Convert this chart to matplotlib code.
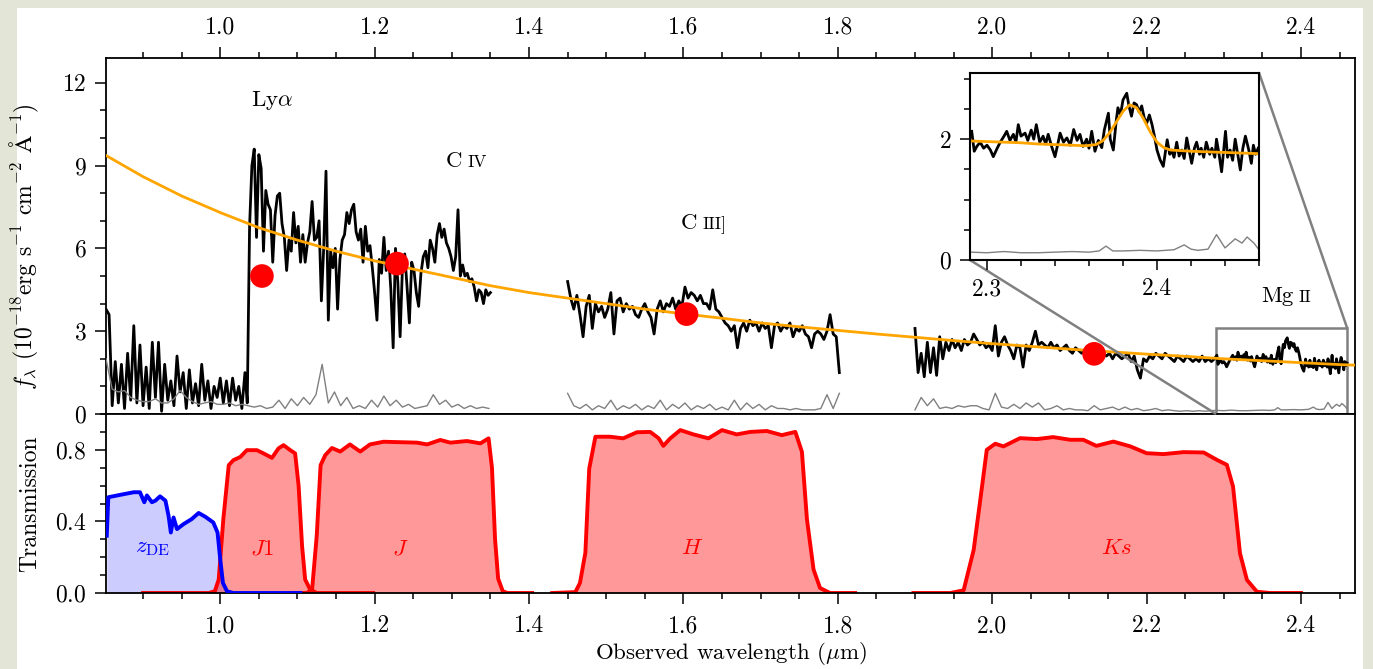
import numpy as np
import matplotlib.pyplot as plt
from matplotlib.patches import Rectangle
from matplotlib.ticker import MultipleLocator, FixedLocator
from mpl_toolkits.axes_grid1.inset_locator import mark_inset

plt.rcParams['font.family'] = 'serif'
plt.rcParams['font.serif'] = ['cmr10']
plt.rcParams['mathtext.fontset'] = 'cm'
plt.rcParams['axes.formatter.use_mathtext'] = True
plt.rcParams['font.size'] = 17

# observed spectrum (flux in 1e-18 erg/s/cm2/A), three chunks
flux_1 = [3.8, 3.6, 0.3, 1.9, 0.4, 1.8, 0.2, 2.2, 0.5, 3.2, 0.4, 2.5, 0.3, 1.7, 0.2, 2.6,
          0.6, 2.6, 0.1, 1.8, 0.5, 1.2, 0.3, 2.1, 0.8, 1.5, 0.2, 1.6, 0.4, 1.1, 0.3, 1.8,
          0.5, 1.2, 0.2, 1.0, 0.6, 1.3, 0.4, 1.2, 0.3, 1.3, 0.5, 1.0, 0.2, 1.5]
flux_1b = [0.4, 6.8, 9.0, 9.6, 6.4, 9.4, 8.9, 5.9, 8.1, 7.6, 7.4, 5.5, 7.2, 7.9, 8.0, 6.9,
           6.4, 5.2, 6.3, 5.9, 7.3, 6.2, 6.8, 5.5, 6.5, 5.5, 6.2, 6.6, 7.7, 6.3, 6.4, 7.0,
           4.1, 6.0, 8.8, 3.4, 5.9, 5.3, 6.0, 3.8, 5.6, 6.3, 6.5, 7.3, 6.9, 7.4, 7.6, 6.6,
           6.3, 6.7, 5.5, 6.8, 5.9, 6.1, 5.3, 4.4, 3.4, 5.6, 5.1, 6.4, 5.2, 5.9, 4.5, 2.4,
           6.0, 4.8, 2.8, 5.3, 5.8, 4.6, 3.3, 5.5, 5.2, 4.4, 3.9, 5.1, 5.7, 5.9, 5.3, 6.3,
           6.0, 5.5, 6.5, 6.9, 6.4, 6.7, 6.2, 6.0, 5.7, 5.2, 5.7, 7.4, 5.0, 5.4, 5.0, 5.1,
           4.8, 4.9, 4.6, 4.1, 4.5, 4.4, 4.0, 4.5, 4.3, 4.4]
flux_2 = [4.8, 4.2, 3.8, 4.3, 3.6, 2.8, 3.9, 4.3, 3.1, 4.0, 3.7, 3.9, 3.5, 3.8, 4.4, 2.9,
          4.1, 4.2, 3.7, 4.0, 3.8, 3.9, 3.6, 3.5, 3.8, 4.0, 3.7, 3.5, 2.9, 3.8, 4.1, 3.7,
          4.0, 3.9, 4.2, 3.8, 4.1, 3.9, 4.6, 4.2, 4.4, 4.3, 4.1, 4.3, 4.0, 4.0, 3.8, 4.5,
          3.8, 3.7, 3.5, 3.3, 3.2, 3.0, 3.2, 2.4, 3.1, 3.3, 3.0, 3.4, 3.2, 3.3, 3.0, 3.3,
          3.1, 3.2, 2.4, 3.2, 3.3, 3.0, 3.2, 3.1, 3.3, 2.8, 3.1, 3.0, 3.2, 2.9, 2.8, 2.4,
          2.9, 3.0, 2.9, 2.7, 3.0, 3.6, 2.9, 2.8, 1.5]
flux_3 = [3.1, 1.5, 2.2, 1.35, 2.6, 1.5, 2.4, 1.4, 2.8, 2.0, 2.6, 2.3, 2.7, 2.4, 2.6, 2.3,
          2.7, 2.5, 2.6, 2.9, 2.7, 2.5, 2.6, 2.4, 2.5, 2.3, 3.2, 2.1, 2.6, 2.8, 2.5, 2.3,
          2.0, 2.5, 2.4, 1.7, 2.5, 2.3, 2.6, 3.0, 2.5, 2.6, 2.5, 2.4, 2.6, 2.4, 2.5, 2.3,
          2.4, 2.5, 2.3, 2.2, 2.4, 2.3, 2.2, 2.3, 2.1, 2.2, 2.3, 2.2, 2.1, 2.2, 2.1, 2.2,
          2.0, 2.2, 2.1, 2.0, 2.1, 2.2, 1.9, 2.1, 1.6, 1.3, 2.0, 1.9, 2.1, 2.0, 2.2, 2.1,
          2.0, 2.2, 2.1, 2.0, 1.9, 2.1, 2.0, 1.9, 2.1, 2.0, 1.9, 2.0, 1.9, 2.1, 1.9, 2.0,
          1.9, 2.0]

# Mg II region (used in the zoom)
wl_mg = [2.291, 2.2925, 2.294, 2.296, 2.298, 2.300, 2.302, 2.3037, 2.306, 2.3076, 2.310,
         2.3116, 2.3135, 2.3155, 2.317, 2.3184, 2.320, 2.3224, 2.324, 2.326, 2.3275, 2.329,
         2.331, 2.333, 2.3345, 2.336, 2.338, 2.340, 2.3415, 2.343, 2.345, 2.347, 2.349,
         2.351, 2.353, 2.3547, 2.3565, 2.3586, 2.360, 2.3616, 2.3635, 2.3655, 2.3675, 2.369,
         2.3714, 2.3725, 2.3743, 2.376, 2.377, 2.3785, 2.380, 2.3822, 2.3835, 2.385, 2.3865,
         2.388, 2.3895, 2.391, 2.3925, 2.394, 2.3955, 2.397, 2.3985, 2.400, 2.4018, 2.4037,
         2.406, 2.4075, 2.4086, 2.410, 2.4116, 2.413, 2.4145, 2.416, 2.4175, 2.419, 2.4204,
         2.422, 2.4233, 2.425, 2.426, 2.4275, 2.429, 2.431, 2.4323, 2.434, 2.435, 2.4365,
         2.438, 2.4403, 2.4415, 2.443, 2.4445, 2.446, 2.4475, 2.449, 2.4505, 2.452, 2.454,
         2.4555, 2.4567, 2.458, 2.4595]
fl_mg = [2.13, 1.80, 1.88, 1.95, 1.85, 1.90, 1.82, 1.71, 1.85, 1.94, 2.05, 2.13, 1.98, 2.08,
         1.95, 2.24, 2.05, 2.10, 1.98, 2.15, 2.00, 2.24, 1.95, 2.05, 1.92, 2.08, 1.88, 1.71,
         1.90, 2.10, 1.95, 2.02, 1.90, 2.16, 1.98, 2.08, 1.88, 2.00, 1.85, 2.13, 1.80, 1.98,
         1.86, 2.15, 2.43, 2.00, 1.82, 2.30, 2.52, 2.40, 2.65, 2.76, 2.55, 2.38, 2.60, 2.57,
         2.45, 2.55, 2.35, 2.27, 2.40, 2.25, 2.05, 1.82, 1.66, 1.55, 1.99, 1.75, 1.82, 1.70,
         1.95, 1.72, 1.82, 1.68, 2.02, 1.80, 1.60, 1.85, 1.95, 1.75, 1.85, 1.70, 1.95, 1.75,
         1.85, 1.70, 2.00, 1.75, 1.46, 2.13, 1.70, 1.82, 1.65, 2.00, 1.75, 1.49, 1.85, 2.05,
         1.82, 1.60, 1.90, 1.75, 1.85]

# error spectrum
err_1 = [2.0, 0.9, 0.8, 0.85, 0.6, 0.5, 0.45, 0.45, 0.55, 0.4, 0.4, 0.55, 0.85, 0.6, 0.45,
         0.35, 0.4, 0.45, 0.35, 0.35, 0.4, 0.3, 0.35, 0.3, 0.25, 0.3, 0.2, 0.25, 0.5, 0.2,
         0.55, 0.3, 0.6, 0.35, 0.7, 1.8, 0.4, 0.8, 0.3, 0.6, 0.2, 0.3, 0.2, 0.5, 0.25, 0.65,
         0.3, 0.5, 0.25, 0.35, 0.2, 0.25, 0.3, 0.7, 0.35, 0.5, 0.25, 0.35, 0.2, 0.3, 0.2,
         0.25, 0.2]
err_2 = [0.75, 0.3, 0.2, 0.35, 0.15, 0.3, 0.2, 0.5, 0.15, 0.3, 0.2, 0.35, 0.15, 0.3, 0.2,
         0.5, 0.15, 0.35, 0.2, 0.4, 0.15, 0.3, 0.2, 0.35, 0.15, 0.25, 0.15, 0.5, 0.15, 0.4,
         0.2, 0.35, 0.15, 0.3, 0.2, 0.2, 0.15, 0.2, 0.15, 0.15, 0.15, 0.2, 0.7, 0.2, 0.75]
err_3 = [0.15, 0.6, 0.3, 0.55, 0.2, 0.25, 0.2, 0.3, 0.25, 0.3, 0.3, 0.2, 0.15, 0.75, 0.25,
         0.2, 0.35, 0.2, 0.4, 0.25, 0.4, 0.15, 0.2, 0.3, 0.15, 0.2, 0.15, 0.15, 0.12, 0.3,
         0.15, 0.2, 0.25, 0.15, 0.25, 0.15, 0.2, 0.12, 0.15, 0.2, 0.12, 0.15, 0.12, 0.1,
         0.12, 0.1, 0.12, 0.1, 0.12]
wl_err_mg = [2.290, 2.300, 2.310, 2.320, 2.330, 2.340, 2.350, 2.360, 2.366, 2.370, 2.374,
             2.380, 2.390, 2.400, 2.410, 2.416, 2.420, 2.424, 2.430, 2.435, 2.440, 2.446,
             2.450, 2.453, 2.457, 2.460]
err_mg = [0.13, 0.12, 0.14, 0.12, 0.12, 0.13, 0.14, 0.13, 0.15, 0.23, 0.15, 0.15, 0.16,
          0.15, 0.17, 0.25, 0.18, 0.16, 0.18, 0.42, 0.20, 0.35, 0.28, 0.38, 0.28, 0.17]

# power-law continuum and Mg II line model
wl_cont = [0.85, 0.90, 0.95, 1.00, 1.05, 1.10, 1.15, 1.20, 1.25, 1.30, 1.35, 1.40, 1.45,
           1.50, 1.55, 1.60, 1.65, 1.70, 1.75, 1.80, 1.85, 1.90, 1.95, 2.00, 2.05, 2.10,
           2.15, 2.20, 2.25, 2.30, 2.35, 2.40, 2.45, 2.47]
fl_cont = [9.4, 8.6, 7.9, 7.3, 6.75, 6.3, 5.9, 5.55, 5.25, 4.95, 4.65, 4.4, 4.2, 4.0, 3.8,
           3.63, 3.47, 3.3, 3.16, 3.03, 2.9, 2.78, 2.66, 2.55, 2.45, 2.35, 2.26, 2.17, 2.09,
           2.0, 1.93, 1.86, 1.79, 1.77]
wl_model = [2.290, 2.300, 2.310, 2.320, 2.330, 2.340, 2.350, 2.358, 2.364, 2.368, 2.372,
            2.376, 2.380, 2.384, 2.388, 2.392, 2.396, 2.400, 2.404, 2.408, 2.414, 2.420,
            2.430, 2.440, 2.450, 2.460]
fl_model = [1.97, 1.96, 1.95, 1.94, 1.92, 1.91, 1.90, 1.89, 1.91, 1.97, 2.10, 2.28, 2.46,
            2.57, 2.52, 2.34, 2.12, 1.95, 1.86, 1.82, 1.81, 1.80, 1.79, 1.78, 1.77, 1.76]

# photometry
phot_wl = [1.054, 1.229, 1.604, 2.132]
phot_fl = [5.0, 5.45, 3.62, 2.18]

# filter curves
zde_wl = [0.853, 0.855, 0.870, 0.888, 0.896, 0.9016, 0.905, 0.9115, 0.916, 0.922, 0.929,
          0.933, 0.936, 0.9395, 0.944, 0.9525, 0.963, 0.972, 0.9806, 0.991, 0.9965, 1.0,
          1.0035, 1.0087, 1.017, 1.104]
zde_t = [0.32, 0.535, 0.548, 0.563, 0.563, 0.507, 0.545, 0.507, 0.516, 0.54, 0.516, 0.432,
         0.338, 0.422, 0.357, 0.385, 0.413, 0.447, 0.426, 0.394, 0.338, 0.188, 0.056, 0.01,
         0.0, 0.0]
j1_wl = [0.90, 0.985, 0.993, 0.998, 1.004, 1.011, 1.017, 1.026, 1.0345, 1.0475, 1.056,
         1.067, 1.0755, 1.082, 1.0907, 1.097, 1.1015, 1.106, 1.110, 1.1166, 1.125, 1.198]
j1_t = [0.0, 0.0, 0.01, 0.075, 0.413, 0.714, 0.742, 0.76, 0.798, 0.798, 0.78, 0.755, 0.808,
        0.826, 0.798, 0.78, 0.60, 0.263, 0.075, 0.019, 0.0, 0.0]
j_wl = [1.09, 1.112, 1.119, 1.125, 1.130, 1.136, 1.1447, 1.1554, 1.168, 1.1813, 1.194,
        1.2115, 1.255, 1.268, 1.285, 1.298, 1.3196, 1.337, 1.3476, 1.352, 1.356, 1.360,
        1.366, 1.372, 1.404]
j_t = [0.0, 0.0, 0.02, 0.32, 0.714, 0.77, 0.81, 0.79, 0.83, 0.79, 0.83, 0.845, 0.84, 0.83,
       0.855, 0.84, 0.849, 0.836, 0.864, 0.70, 0.30, 0.08, 0.01, 0.0, 0.0]
h_wl = [1.43, 1.46, 1.466, 1.473, 1.478, 1.486, 1.505, 1.522, 1.5397, 1.557, 1.568, 1.574,
        1.583, 1.596, 1.613, 1.6325, 1.65, 1.669, 1.6865, 1.708, 1.7275, 1.745, 1.7535,
        1.76, 1.7686, 1.777, 1.79, 1.8225]
h_t = [0.0, 0.005, 0.056, 0.225, 0.695, 0.873, 0.873, 0.864, 0.898, 0.9, 0.864, 0.822,
       0.864, 0.91, 0.886, 0.864, 0.91, 0.886, 0.9, 0.905, 0.882, 0.9, 0.789, 0.413, 0.131,
       0.028, 0.0, 0.0]
ks_wl = [1.898, 1.9456, 1.963, 1.976, 1.987, 1.993, 2.004, 2.0146, 2.036, 2.058, 2.079,
         2.101, 2.118, 2.135, 2.157, 2.179, 2.2, 2.222, 2.248, 2.274, 2.291, 2.304, 2.312,
         2.321, 2.33, 2.343, 2.36, 2.40]
ks_t = [0.0, 0.0, 0.015, 0.24, 0.6, 0.8, 0.834, 0.819, 0.865, 0.86, 0.871, 0.856, 0.856,
        0.822, 0.846, 0.819, 0.781, 0.776, 0.787, 0.785, 0.744, 0.716, 0.595, 0.222, 0.073,
        0.007, 0.0, 0.0]

# wavelength grids of the spectrum chunks
wl_1 = np.concatenate([np.linspace(0.852, 1.032, len(flux_1)),
                       np.linspace(1.035, 1.35, len(flux_1b))])
fl_1 = flux_1 + flux_1b
wl_2 = np.linspace(1.45, 1.802, len(flux_2))
wl_3 = np.concatenate([np.linspace(1.90, 2.288, len(flux_3)), wl_mg])
fl_3 = flux_3 + fl_mg
wl_e1 = np.linspace(0.852, 1.348, len(err_1))
wl_e2 = np.linspace(1.45, 1.802, len(err_2))
wl_e3 = np.concatenate([np.linspace(1.90, 2.284, len(err_3)), wl_err_mg])
er_3 = err_3 + err_mg

W, H = 1373, 669
fig = plt.figure(figsize=(W / 100, H / 100), dpi=100, facecolor='#e3e5d6')
fig.add_artist(Rectangle((17 / W, 0), (1363 - 17) / W, (H - 8) / H, transform=fig.transFigure,
                         facecolor='white', edgecolor='none', zorder=-10))

ax1 = fig.add_axes([106 / W, 1 - 414 / H, (1355 - 106) / W, (414 - 58) / H])
ax2 = fig.add_axes([106 / W, 1 - 593 / H, (1355 - 106) / W, (593 - 414) / H])

tick_kw = dict(direction='out', width=1.1)
for ax in (ax1, ax2):
    for s in ax.spines.values():
        s.set_linewidth(1.3)
    ax.tick_params(which='major', length=8, pad=6, **tick_kw)
    ax.tick_params(which='minor', length=4.5, **tick_kw)
    ax.set_xlim(0.852, 2.47)
    ax.xaxis.set_major_locator(MultipleLocator(0.2))
    ax.xaxis.set_minor_locator(MultipleLocator(0.05))
    ax.xaxis.set_major_formatter(plt.FormatStrFormatter('%.1f'))

# spectrum panel
for wl, fl in ((wl_1, fl_1), (wl_2, flux_2), (wl_3, fl_3)):
    ax1.plot(wl, fl, color='black', lw=2.0, zorder=2)
for wl, er in ((wl_e1, err_1), (wl_e2, err_2), (wl_e3, er_3)):
    ax1.plot(wl, er, color='#808080', lw=1.0, zorder=3)
ax1.plot(wl_cont, fl_cont, color='orange', lw=2.0, zorder=4)
ax1.scatter(phot_wl, phot_fl, s=290, color='red', zorder=5, edgecolors='none')
ax1.set_ylim(0, 12.9)
ax1.yaxis.set_major_locator(MultipleLocator(3))
ax1.yaxis.set_minor_locator(MultipleLocator(1))
ax1.tick_params(axis='x', which='both', top=True, bottom=False, labeltop=True, labelbottom=False)
ax1.set_ylabel(r'$f_\lambda$ ($10^{-18}$erg s$^{-1}$ cm$^{-2}$ $\mathrm{\AA}^{-1}$)')
ax1.yaxis.set_label_coords(-0.052, 0.47)


def ion_label(x, y, elem, stage):
    ax1.text(x, y, elem, ha='right', va='baseline', fontsize=16.5)
    ax1.annotate(stage, (x, y), xytext=(4, 0), textcoords='offset points',
                 ha='left', va='baseline', fontsize=12.5)


ax1.text(1.04, 11.15, r'Ly$\alpha$', ha='left', va='baseline', fontsize=16.5)
ion_label(1.3135, 8.95, 'C', 'IV')
ion_label(1.618, 6.7, 'C', 'III]')
ion_label(2.39, 4.07, 'Mg', 'II')

# filter panel
ax2.plot(zde_wl, zde_t, color='blue', lw=2.8, zorder=3)
ax2.fill_between(zde_wl, 0, zde_t, color='blue', alpha=0.2, lw=0, zorder=1)
for wl, t in ((j1_wl, j1_t), (j_wl, j_t), (h_wl, h_t), (ks_wl, ks_t)):
    ax2.fill_between(wl, 0, t, color='red', alpha=0.4, lw=0, zorder=1)
    ax2.plot(wl, t, color='red', lw=2.8, zorder=2)
ax2.set_ylim(0, 1.0)
ax2.yaxis.set_major_locator(FixedLocator([0.0, 0.4, 0.8]))
ax2.yaxis.set_minor_locator(MultipleLocator(0.1))
ax2.tick_params(axis='x', which='both', top=False)
ax2.tick_params(axis='x', which='major', pad=8)
ax2.set_ylabel('Transmission')
ax2.yaxis.set_label_coords(-0.052, 0.5)
ax2.set_xlabel(r'Observed wavelength ($\mu$m)', fontsize=16.5)
ax2.xaxis.set_label_coords(0.5, -0.262)
filt_names = [r'$z_{\rm DE}$', r'$J1$', r'$J$', r'$H$', r'$Ks$']
filt_pos = [0.912, 1.054, 1.233, 1.611, 2.161]
filt_col = ['blue', 'red', 'red', 'red', 'red']
for name, x, c in zip(filt_names, filt_pos, filt_col):
    ax2.text(x, 0.25, name, color=c, ha='center', va='center', fontsize=16.5)

# zoom on Mg II
axins = fig.add_axes([970 / W, 1 - 260 / H, (1259 - 970) / W, (260 - 72.7) / H])
axins.plot(wl_mg, fl_mg, color='black', lw=2.0)
axins.plot(wl_err_mg, err_mg, color='#808080', lw=1.0)
axins.plot(wl_model, fl_model, color='orange', lw=2.0)
axins.set_xlim(2.29, 2.46)
axins.set_ylim(0, 3.1)
axins.xaxis.set_major_locator(MultipleLocator(0.1))
axins.xaxis.set_minor_locator(MultipleLocator(0.02))
axins.xaxis.set_major_formatter(plt.FormatStrFormatter('%.1f'))
axins.yaxis.set_major_locator(MultipleLocator(2))
axins.yaxis.set_minor_locator(MultipleLocator(0.5))
for s in axins.spines.values():
    s.set_linewidth(1.5)
axins.tick_params(which='major', length=7, pad=6, **tick_kw)
axins.tick_params(which='minor', length=4.5, **tick_kw)
mark_inset(ax1, axins, loc1=3, loc2=1, fc='none', ec='#808080', lw=1.8)

fig.savefig('out.png', dpi=100, facecolor=fig.get_facecolor())
